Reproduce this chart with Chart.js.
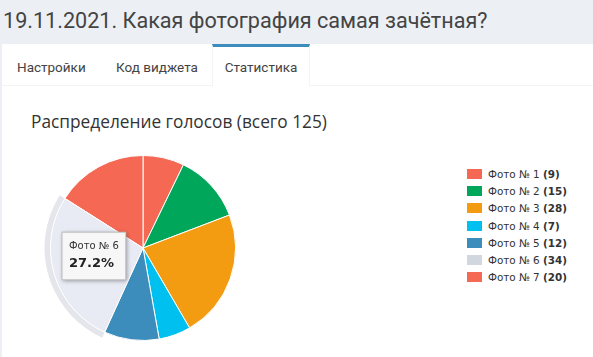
<!DOCTYPE html>
<html>
<head>
<meta charset="utf-8">
<script src="https://cdn.jsdelivr.net/npm/chart.js@4"></script>
<style>
  html, body { margin: 0; padding: 0; }
  body { width: 593px; height: 357px; overflow: hidden; background: #ecf0f5; position: relative; font-family: Roboto, sans-serif; }
  .page-title { position: absolute; left: 3px; top: 8px; font-size: 21.6px; color: #444; white-space: nowrap; }
  .box { position: absolute; left: 2px; top: 44px; width: 600px; height: 320px; background: #fff; }
  .tabbar { position: absolute; left: 0; top: 0; width: 100%; height: 41px; border-bottom: 1px solid #f4f4f4; }
  .tab { position: absolute; top: 0; height: 41px; line-height: 46px; font-size: 13.5px; color: #444; white-space: nowrap; }
  .tab.active { border-top: 3px solid #3c8dbc; height: 39px; line-height: 40px; background: #fff; border-left: 1px solid #f4f4f4; border-right: 1px solid #f4f4f4; text-align: center; }
  .chart-title { position: absolute; left: 31px; top: 110px; font-family: "Open Sans", sans-serif; font-size: 17.3px; color: #333; white-space: nowrap; }
  #pie-wrap { position: absolute; left: 33px; top: 138px; width: 220px; height: 220px; }
  #legend { position: absolute; left: 467px; top: 166px; font-family: "DejaVu Sans", sans-serif; font-size: 10.4px; color: #333; }
  #legend .item { height: 17.2px; line-height: 17px; white-space: nowrap; }
  #legend .sw { display: inline-block; width: 15px; height: 10px; vertical-align: -1px; margin-right: 6px; }
</style>
</head>
<body>
<div class="page-title">19.11.2021. Какая фотография самая зачётная?</div>
<div class="box">
  <div class="tabbar"></div>
  <div class="tab" style="left:15px">Настройки</div>
  <div class="tab" style="left:114px">Код виджета</div>
  <div class="tab active" style="left:210px;width:96px">Статистика</div>
</div>
<div class="chart-title">Распределение голосов (всего 125)</div>
<div id="pie-wrap"><canvas id="pie"></canvas></div>
<div id="legend"></div>
<script>
const labels = ['Фото № 1', 'Фото № 2', 'Фото № 3', 'Фото № 4', 'Фото № 5', 'Фото № 6', 'Фото № 7'];
const votes = [9, 15, 28, 7, 12, 34, 20];
const colors = ['#f56954', '#00a65a', '#f39c12', '#00c0ef', '#3c8dbc', '#d2d6de', '#f56954'];
const hoverColors = ['#f77d6b', '#1ab26c', '#f5a92f', '#1ac8f1', '#5199c3', '#e8ebf3', '#f77d6b'];
const activeIndex = 5;

const total = votes.reduce((a, b) => a + b, 0);

// legend
const legendEl = document.getElementById('legend');
labels.forEach((name, i) => {
    const row = document.createElement('div');
    row.className = 'item';
    row.innerHTML = `<span class="sw" style="background:${colors[i]}"></span>${name} <b>(${votes[i]})</b>`;
    legendEl.appendChild(row);
});

// tooltip anchor, in canvas coordinates
const tipX = 29, tipY = 118;
Chart.Tooltip.positioners.fixedBox = function() {
    return { x: tipX, y: tipY };
};

// halo around the hovered slice + tooltip shadow
const haloPlugin = {
    id: 'halo',
    beforeDatasetsDraw(chart) {
        const arc = chart.getDatasetMeta(0).data[activeIndex];
        if (!arc) return;
        const ctx = chart.ctx;
        ctx.save();
        ctx.beginPath();
        ctx.arc(arc.x, arc.y, arc.outerRadius + 6, arc.startAngle, arc.endAngle);
        ctx.arc(arc.x, arc.y, arc.outerRadius, arc.endAngle, arc.startAngle, true);
        ctx.closePath();
        ctx.fillStyle = 'rgba(210, 214, 222, 0.6)';
        ctx.fill();
        ctx.restore();
    },
    beforeTooltipDraw(chart, args) {
        const t = args.tooltip;
        const ctx = chart.ctx;
        ctx.save();
        ctx.shadowColor = 'rgba(0,0,0,0.35)';
        ctx.shadowBlur = 4;
        ctx.shadowOffsetX = 1;
        ctx.shadowOffsetY = 1;
        ctx.fillStyle = '#f7f7f7';
        ctx.fillRect(t.x, t.y, t.width, t.height);
        ctx.restore();
    }
};

const chart = new Chart(document.getElementById('pie'), {
    type: 'pie',
    data: {
        labels: labels,
        datasets: [{
            data: votes,
            backgroundColor: colors,
            hoverBackgroundColor: hoverColors,
            borderColor: '#fff',
            hoverBorderColor: '#fff',
            borderWidth: 1,
            hoverOffset: 0
        }]
    },
    options: {
        responsive: true,
        maintainAspectRatio: false,
        animation: false,
        events: [],
        layout: { padding: 17 },
        plugins: {
            legend: { display: false },
            tooltip: {
                position: 'fixedBox',
                xAlign: 'left',
                yAlign: 'center',
                caretSize: 0,
                caretPadding: 0,
                cornerRadius: 0,
                backgroundColor: '#f7f7f7',
                borderColor: '#bbbbbb',
                borderWidth: 1,
                padding: { left: 7, right: 7, top: 8, bottom: 8 },
                titleColor: '#333',
                bodyColor: '#222',
                titleFont: { family: 'DejaVu Sans', size: 10, weight: 'normal' },
                bodyFont: { family: 'DejaVu Sans', size: 13, weight: 'bold' },
                titleMarginBottom: 4,
                displayColors: false,
                callbacks: {
                    title: items => items[0].label,
                    label: ctx => (ctx.raw / total * 100).toFixed(1) + '%'
                }
            }
        }
    },
    plugins: [haloPlugin]
});

chart.setActiveElements([{ datasetIndex: 0, index: activeIndex }]);
chart.tooltip.setActiveElements([{ datasetIndex: 0, index: activeIndex }], { x: tipX, y: tipY });
chart.update();
</script>
</body>
</html>
